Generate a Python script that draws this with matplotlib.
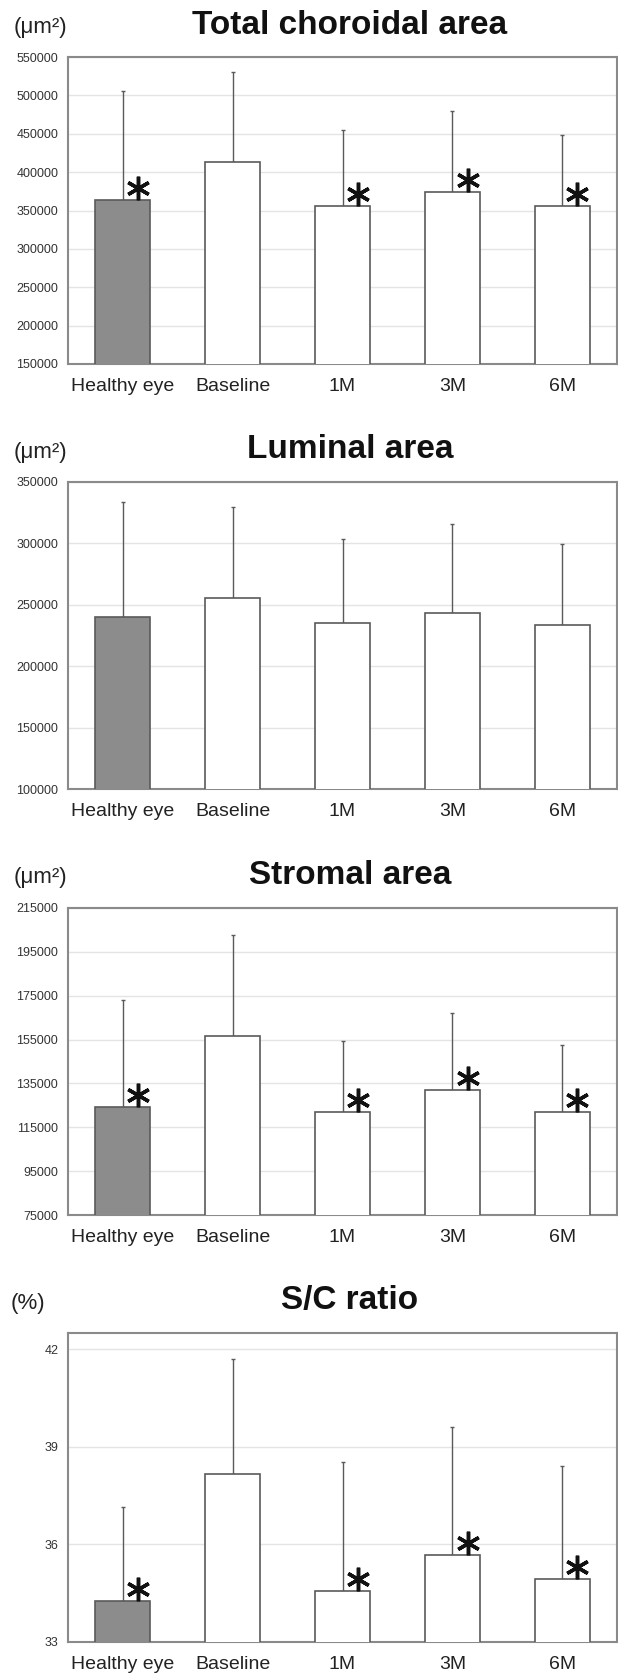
import matplotlib.pyplot as plt
import matplotlib.transforms as mtransforms

# data
groups = ['Healthy eye', 'Baseline', '1M', '3M', '6M']

total_mean = [364300, 412900, 356500, 374700, 355600]
total_sd = [141400, 117600, 98900, 104600, 93300]
total_star = [True, False, True, True, True]

luminal_mean = [240300, 255500, 234900, 243100, 233300]
luminal_sd = [93100, 74100, 68700, 72400, 66500]
luminal_star = [False, False, False, False, False]

stromal_mean = [124200, 156800, 121800, 131800, 122100]
stromal_sd = [49000, 45700, 32600, 35100, 30300]
stromal_star = [True, False, True, True, True]

ratio_mean = [34.25, 38.16, 34.57, 35.66, 34.94]
ratio_sd = [2.89, 3.53, 3.97, 3.95, 3.47]
ratio_star = [True, False, True, True, True]

panels = [
    ('Total choroidal area', '(\u03bcm\u00b2)', total_mean, total_sd, total_star,
     (150000, 550000), list(range(150000, 550001, 50000))),
    ('Luminal area', '(\u03bcm\u00b2)', luminal_mean, luminal_sd, luminal_star,
     (100000, 350000), list(range(100000, 350001, 50000))),
    ('Stromal area', '(\u03bcm\u00b2)', stromal_mean, stromal_sd, stromal_star,
     (75000, 215000), list(range(75000, 215001, 20000))),
    ('S/C ratio', '(%)', ratio_mean, ratio_sd, ratio_star,
     (33, 42.5), [33, 36, 39, 42]),
]

# axes boxes in pixels: (top, bottom)
W, H = 618, 1673
boxes = [(57, 364), (482, 789), (908, 1215), (1333, 1642)]
left, right = 68, 617

plt.rcParams['font.family'] = ['Liberation Sans', 'DejaVu Sans']
fig = plt.figure(figsize=(W / 100, H / 100), dpi=100)

for (title, unit, means, sds, stars, ylim, yticks), (top, bot) in zip(panels, boxes):
    ax = fig.add_axes([left / W, 1 - bot / H, (right - left) / W, (bot - top) / H])
    x = list(range(len(groups)))
    colors = ['#8c8c8c'] + ['white'] * (len(groups) - 1)
    ax.bar(x, means, width=0.5, color=colors, edgecolor='#5a5a5a', linewidth=1.2, zorder=3)
    ax.errorbar(x, means, yerr=[[0] * len(sds), sds], fmt='none', ecolor='#5a5a5a',
                elinewidth=1.0, capsize=1.5, capthick=1.0, zorder=2)

    # asterisks just above the bar top, right of the error bar
    star_tr = mtransforms.offset_copy(ax.transData, fig=fig, x=0, y=12, units='dots')
    for xi, m, s in zip(x, means, stars):
        if s:
            ax.plot(xi + 0.14, m, marker=(6, 2, 0), ms=17, mew=2.5, color='#111111',
                    transform=star_tr, zorder=4, clip_on=False)

    ax.set_xlim(-0.5, 4.5)
    ax.set_ylim(*ylim)
    ax.set_yticks(yticks)
    ax.set_yticklabels([str(t) for t in yticks], fontsize=9, color='#333333')
    ax.set_xticks(x)
    ax.set_xticklabels(groups, fontsize=14, color='#222222')
    ax.tick_params(axis='both', length=0)
    ax.tick_params(axis='y', pad=7)
    ax.tick_params(axis='x', pad=10)
    ax.grid(axis='y', color='#e4e4e4', linewidth=1.0, zorder=0)
    ax.set_axisbelow(True)
    for sp in ax.spines.values():
        sp.set_color('#8a8a8a')
        sp.set_linewidth(1.5)

    fig.text(350 / W, 1 - (top - 32) / H, title, fontsize=24, fontweight='bold',
             ha='center', va='center', color='#111111')
    ux = 40 / W if unit != '(%)' else 28 / W
    fig.text(ux, 1 - (top - 30) / H, unit, fontsize=16, ha='center', va='center',
             color='#222222')

fig.savefig('out.png', dpi=100)
